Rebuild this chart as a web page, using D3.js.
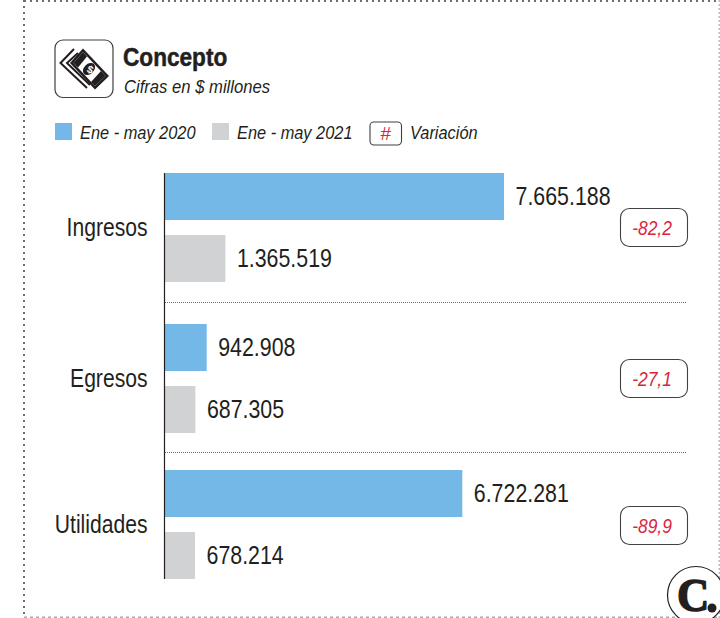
<!DOCTYPE html>
<html>
<head>
<meta charset="utf-8">
<title>Concepto</title>
<style>
    html, body { margin: 0; padding: 0; background: #fff; }
    svg { display: block; }
    text { font-family: "Liberation Sans", sans-serif; fill: #231f20; }
</style>
</head>
<body>
<script src="https://cdnjs.cloudflare.com/ajax/libs/d3/7.8.5/d3.min.js"></script>
<script>
    // datos
    var categorias = ["Ingresos", "Egresos", "Utilidades"];
    var valores2020 = [7665188, 942908, 6722281];
    var valores2021 = [1365519, 687305, 678214];
    var variacion = ["-82,2", "-27,1", "-89,9"];
    var series = ["Ene - may 2020", "Ene - may 2021"];

    var azul = "#74b8e8", gris = "#d1d2d4", rojo = "#d7263d";
    var fmt = d3.formatLocale({ decimal: ",", thousands: ".", grouping: [3], currency: ["$", ""] }).format(",d");

    var svg = d3.select("body").append("svg").attr("width", 720).attr("height", 618);

    // la fuente original es condensada: se angosta el texto en x
    function angosto(x, y, sx) {
        return "translate(" + x + "," + y + ") scale(" + sx + ",1)";
    }

    // marco punteado
    function punteado(x1, y1, x2, y2, dash, color) {
        svg.append("line").attr("x1", x1).attr("y1", y1).attr("x2", x2).attr("y2", y2)
            .attr("stroke", color).attr("stroke-width", 2).attr("stroke-dasharray", dash);
    }
    punteado(24, 0, 24, 618, "2 4", "#6d6e71");
    punteado(24, 1, 720, 1, "2 4", "#6d6e71");
    punteado(719.5, 0, 719.5, 618, "2 2", "#bbbdbf");
    punteado(24, 617.5, 720, 617.5, "3 3", "#a7a9ac");

    // escalas
    var x = d3.scaleLinear().domain([0, 7665188]).range([165, 504]);
    var yGrupo = d3.scaleOrdinal().domain(categorias).range([173, 324, 470]);
    var ySerie = d3.scaleBand().domain(series).range([0, 109]).paddingInner(15 / 62);
    var altoBarra = ySerie.bandwidth();

    // separadores
    svg.selectAll("line.sep").data([302, 452]).enter().append("line")
        .attr("class", "sep")
        .attr("x1", 165).attr("x2", 687).attr("y1", d => d + 0.5).attr("y2", d => d + 0.5)
        .attr("stroke", "#6d6e71").attr("stroke-width", 1).attr("stroke-dasharray", "1 1");

    // barras
    var grupos = svg.selectAll("g.grupo").data(categorias).enter().append("g")
        .attr("class", "grupo")
        .attr("transform", d => "translate(0," + yGrupo(d) + ")");

    [valores2020, valores2021].forEach(function (valores, s) {
        grupos.append("rect")
            .attr("x", x(0))
            .attr("y", ySerie(series[s]))
            .attr("width", (d, i) => x(valores[i]) - x(0))
            .attr("height", altoBarra)
            .attr("fill", s == 0 ? azul : gris);
        grupos.append("text")
            .attr("transform", (d, i) => angosto(x(valores[i]) + 11.5, ySerie(series[s]) + altoBarra / 2 + 8.5, 0.855))
            .attr("font-size", 25)
            .text((d, i) => fmt(valores[i]));
    });

    // eje
    svg.append("line").attr("x1", 164.5).attr("x2", 164.5).attr("y1", 173).attr("y2", 579)
        .attr("stroke", "#231f20").attr("stroke-width", 1.2);

    // categorias
    grupos.append("text")
        .attr("transform", angosto(147.5, 63, 0.845))
        .attr("text-anchor", "end")
        .attr("font-size", 25)
        .text(d => d);

    // cajas de variacion
    var cajas = svg.selectAll("g.caja").data(variacion).enter().append("g")
        .attr("class", "caja")
        .attr("transform", (d, i) => "translate(620.5," + (yGrupo(categorias[i]) + [35.5, 35.5, 36.5][i]) + ")");
    cajas.append("rect").attr("width", 67).attr("height", 38).attr("rx", 9)
        .attr("fill", "#fff").attr("stroke", "#414042").attr("stroke-width", 1.1);
    cajas.append("text")
        .attr("transform", angosto(31.5, 26, 0.85))
        .attr("text-anchor", "middle")
        .attr("font-size", 20.5).attr("font-style", "italic").style("fill", rojo)
        .text(d => d);

    // encabezado
    svg.append("rect").attr("x", 55).attr("y", 40).attr("width", 58).attr("height", 57.5).attr("rx", 8)
        .attr("fill", "#fff").attr("stroke", "#414042").attr("stroke-width", 1.2);

    // icono billetes
    var icono = svg.append("g");
    icono.append("path").attr("d", "M74,49 L60.5,63 L87,88 M78,53 L67,63 L90,85")
        .attr("fill", "none").attr("stroke", "#231f20").attr("stroke-width", 2);
    icono.append("path").attr("d", "M83,48.5 L109,76 L95,89.5 L70,63 Z").attr("fill", "#231f20");
    icono.append("path").attr("d", "M83,52 L105.5,76 L95,86 L73.5,63 Z").attr("fill", "#fff");
    icono.append("path").attr("d", "M83,52 L87,56.5 L78,67.5 L73.5,63 Z M105.5,76 L101,71 L91,82 L95,86 Z").attr("fill", "#231f20");
    icono.append("ellipse").attr("cx", 89).attr("cy", 69).attr("rx", 7).attr("ry", 5)
        .attr("transform", "rotate(-45 89 69)").attr("fill", "#231f20");
    icono.append("text").attr("transform", "translate(89,73) rotate(20)").attr("text-anchor", "middle")
        .attr("font-size", 10.5).attr("font-weight", "bold").style("fill", "#fff").text("$");

    svg.append("text").attr("transform", angosto(123, 66, 0.87))
        .attr("font-size", 26).attr("font-weight", "bold")
        .attr("stroke", "#231f20").attr("stroke-width", 0.5).text("Concepto");
    svg.append("text").attr("transform", angosto(124, 93, 0.9))
        .attr("font-size", 18.5).attr("font-style", "italic").text("Cifras en $ millones");

    // leyenda
    svg.selectAll("rect.ley").data(series).enter().append("rect")
        .attr("class", "ley")
        .attr("x", (d, i) => [55, 212][i]).attr("y", 123).attr("width", 17).attr("height", 17)
        .attr("fill", (d, i) => i == 0 ? azul : gris);
    svg.selectAll("text.ley").data(series).enter().append("text")
        .attr("class", "ley")
        .attr("transform", (d, i) => angosto([80, 237][i], 139, 0.885))
        .attr("font-size", 18.5).attr("font-style", "italic")
        .text(d => d);
    svg.append("rect").attr("x", 370).attr("y", 122).attr("width", 31.5).attr("height", 23).attr("rx", 4)
        .attr("fill", "#fff").attr("stroke", "#414042").attr("stroke-width", 1.1);
    svg.append("text").attr("x", 385.5).attr("y", 140).attr("text-anchor", "middle")
        .attr("font-size", 19).attr("font-style", "italic").style("fill", rojo).text("#");
    svg.append("text").attr("transform", angosto(410, 139, 0.885))
        .attr("font-size", 18.5).attr("font-style", "italic").text("Variación");

    // logo
    svg.append("circle").attr("cx", 696).attr("cy", 595).attr("r", 28.5)
        .attr("fill", "#fff").attr("stroke", "#231f20").attr("stroke-width", 1.2);
    svg.append("text").attr("transform", angosto(677, 611, 0.95))
        .style("font-family", "Liberation Serif").attr("font-size", 47).attr("font-weight", "bold")
        .attr("stroke", "#231f20").attr("stroke-width", 1.5).text("C");
    svg.append("circle").attr("cx", 712).attr("cy", 608).attr("r", 4.5).attr("fill", "#231f20");
</script>
</body>
</html>
